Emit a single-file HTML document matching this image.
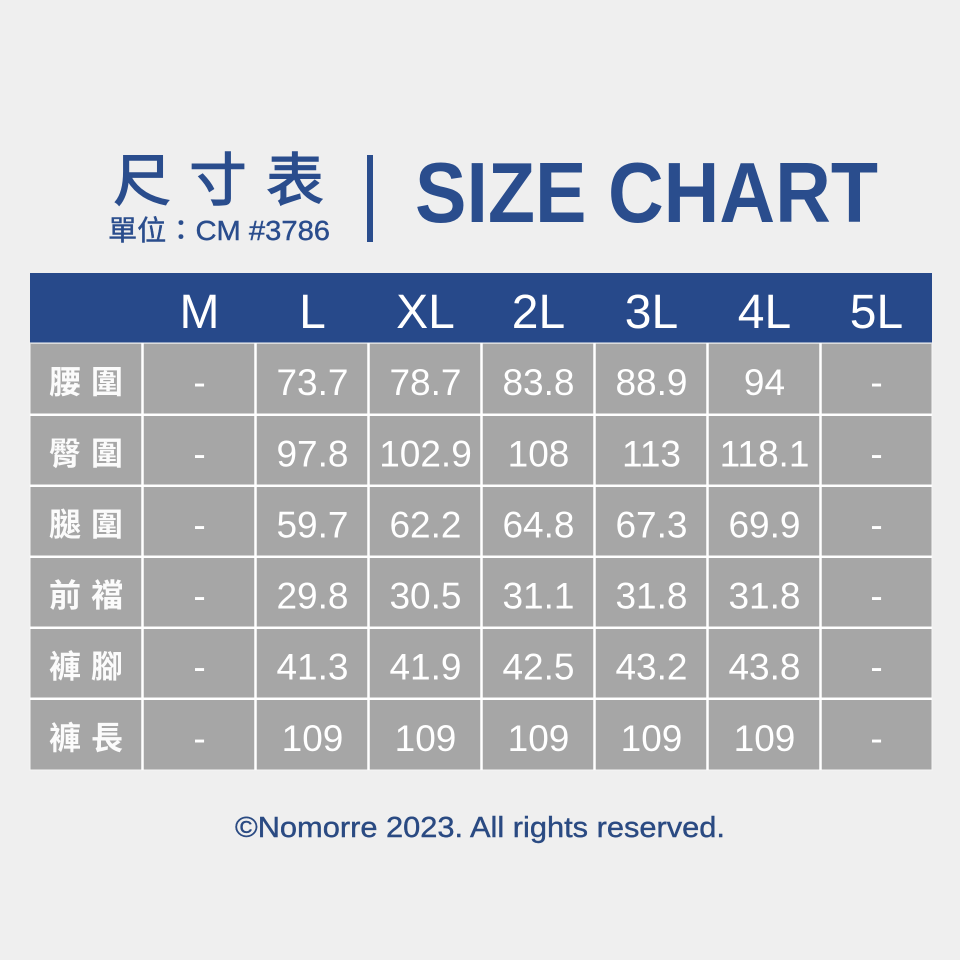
<!DOCTYPE html>
<html><head><meta charset="utf-8"><style>
html,body{margin:0;padding:0;background:#efefef;}
svg{display:block;}
</style></head><body>
<svg width="960" height="960" viewBox="0 0 960 960" xmlns="http://www.w3.org/2000/svg">
<rect width="960" height="960" fill="#efefef"/>
<!-- Title -->
<g fill="#2a4d8d" font-family="'Liberation Sans','Noto Sans CJK TC',sans-serif">
  <g stroke="#2a4d8d" stroke-width="1.6" font-family="'Noto Sans CJK TC',sans-serif" font-size="57" text-anchor="middle">
    <text x="142" y="200">尺</text>
    <text x="218" y="200">寸</text>
    <text x="295" y="200">表</text>
  </g>
  <text x="108" y="240" font-size="28" stroke="#2a4d8d" stroke-width="0.4" textLength="222" lengthAdjust="spacingAndGlyphs">單位：CM #3786</text>
  <rect x="367" y="155" width="6" height="87"/>
  <text x="415" y="222" font-size="85" font-weight="bold" textLength="463" lengthAdjust="spacingAndGlyphs">SIZE CHART</text>
</g>
<!-- Header -->
<rect x="30" y="273" width="902" height="70" fill="#27498a"/>
<g fill="#ffffff" font-family="'Liberation Sans',sans-serif" font-size="48" text-anchor="middle">
  <text x="199.5" y="328">M</text>
  <text x="312.5" y="328">L</text>
  <text x="425.5" y="328">XL</text>
  <text x="538.5" y="328">2L</text>
  <text x="651.5" y="328">3L</text>
  <text x="764.5" y="328">4L</text>
  <text x="876.5" y="328">5L</text>
</g>
<!-- Body -->
<rect x="30" y="343" width="902" height="427" fill="#a6a6a6"/>
<rect x="30" y="343" width="902" height="427" fill="none" stroke="#f6f6f6" stroke-width="1"/>
<line x1="30" y1="343.5" x2="932" y2="343.5" stroke="#dcdcdc" stroke-width="1"/>
<g stroke="#ffffff" stroke-width="2.5">
  <line x1="142.5" y1="343" x2="142.5" y2="770"/>
  <line x1="255.5" y1="343" x2="255.5" y2="770"/>
  <line x1="368.5" y1="343" x2="368.5" y2="770"/>
  <line x1="481.5" y1="343" x2="481.5" y2="770"/>
  <line x1="594.5" y1="343" x2="594.5" y2="770"/>
  <line x1="707.5" y1="343" x2="707.5" y2="770"/>
  <line x1="820.5" y1="343" x2="820.5" y2="770"/>
  <line x1="30" y1="414.8" x2="932" y2="414.8"/>
  <line x1="30" y1="485.8" x2="932" y2="485.8"/>
  <line x1="30" y1="556.8" x2="932" y2="556.8"/>
  <line x1="30" y1="627.8" x2="932" y2="627.8"/>
  <line x1="30" y1="698.8" x2="932" y2="698.8"/>
</g>
<!-- Row labels -->
<g fill="#fbfbfb" font-family="'Noto Sans CJK TC',sans-serif" font-size="32" font-weight="bold" text-anchor="middle">
  <text x="65" y="393">腰</text><text x="107" y="393">圍</text>
  <text x="65" y="464.5">臀</text><text x="107" y="464.5">圍</text>
  <text x="65" y="535.5">腿</text><text x="107" y="535.5">圍</text>
  <text x="65" y="606.5">前</text><text x="107" y="606.5">襠</text>
  <text x="65" y="677.5">褲</text><text x="107" y="677.5">腳</text>
  <text x="65" y="749">褲</text><text x="107" y="749">長</text>
</g>
<!-- Values -->
<g fill="#ffffff" font-family="'Liberation Sans',sans-serif" font-size="37" text-anchor="middle">
  <text x="199.5" y="395">-</text><text x="312.5" y="395">73.7</text><text x="425.5" y="395">78.7</text><text x="538.5" y="395">83.8</text><text x="651.5" y="395">88.9</text><text x="764.5" y="395">94</text><text x="876.5" y="395">-</text>
  <text x="199.5" y="466.5">-</text><text x="312.5" y="466.5">97.8</text><text x="425.5" y="466.5">102.9</text><text x="538.5" y="466.5">108</text><text x="651.5" y="466.5">113</text><text x="764.5" y="466.5">118.1</text><text x="876.5" y="466.5">-</text>
  <text x="199.5" y="537.5">-</text><text x="312.5" y="537.5">59.7</text><text x="425.5" y="537.5">62.2</text><text x="538.5" y="537.5">64.8</text><text x="651.5" y="537.5">67.3</text><text x="764.5" y="537.5">69.9</text><text x="876.5" y="537.5">-</text>
  <text x="199.5" y="608.5">-</text><text x="312.5" y="608.5">29.8</text><text x="425.5" y="608.5">30.5</text><text x="538.5" y="608.5">31.1</text><text x="651.5" y="608.5">31.8</text><text x="764.5" y="608.5">31.8</text><text x="876.5" y="608.5">-</text>
  <text x="199.5" y="679.5">-</text><text x="312.5" y="679.5">41.3</text><text x="425.5" y="679.5">41.9</text><text x="538.5" y="679.5">42.5</text><text x="651.5" y="679.5">43.2</text><text x="764.5" y="679.5">43.8</text><text x="876.5" y="679.5">-</text>
  <text x="199.5" y="751">-</text><text x="312.5" y="751">109</text><text x="425.5" y="751">109</text><text x="538.5" y="751">109</text><text x="651.5" y="751">109</text><text x="764.5" y="751">109</text><text x="876.5" y="751">-</text>
</g>
<!-- Footer -->
<text x="235" y="837" fill="#2a4a82" stroke="#2a4a82" stroke-width="0.4" font-family="'Liberation Sans',sans-serif" font-size="29" textLength="490" lengthAdjust="spacingAndGlyphs">©Nomorre 2023. All rights reserved.</text>
</svg>
</body></html>
